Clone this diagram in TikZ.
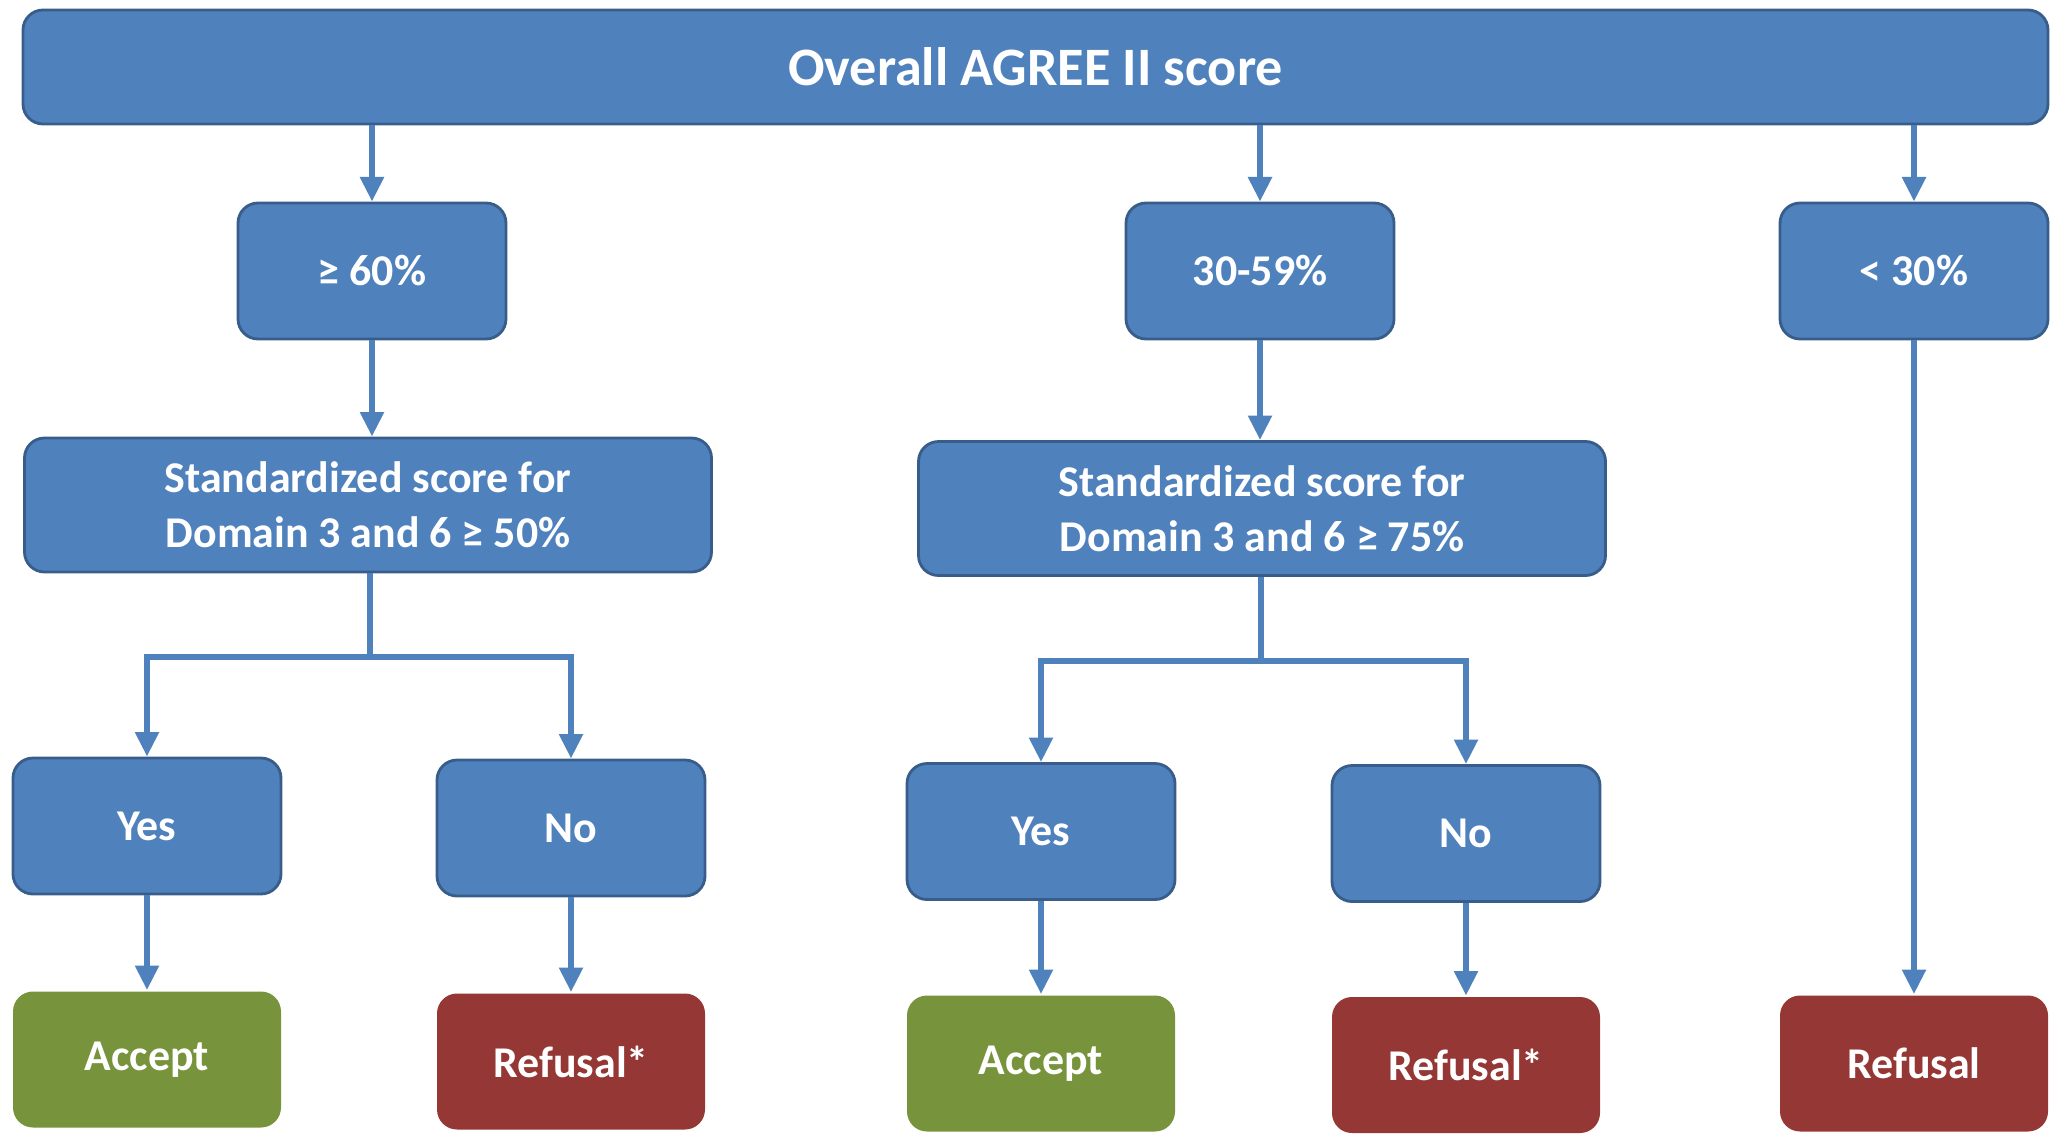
\documentclass[tikz,border=0pt]{standalone}
\usepackage{fontspec}
\setmainfont{Carlito}
\usetikzlibrary{arrows.meta}
\definecolor{boxblue}{HTML}{4F81BD}
\definecolor{edgeblue}{HTML}{385D8A}
\definecolor{okgreen}{HTML}{77933C}
\definecolor{norred}{HTML}{953735}
\begin{document}
\begin{tikzpicture}[
    stepbox/.style={draw=edgeblue,line width=0.8pt,fill=boxblue,rounded corners=0.2cm,
        text=white,font=\fontsize{12.5}{15.6}\selectfont\bfseries,align=center,
        minimum width=2.68cm,minimum height=1.36cm,inner sep=0pt},
    widebox/.style={stepbox,minimum width=6.87cm,minimum height=1.34cm},
    acceptbox/.style={stepbox,draw=none,fill=okgreen},
    refusebox/.style={stepbox,draw=none,fill=norred},
    link/.style={draw=boxblue,line width=1.7pt},
    arr/.style={link,-{Triangle[width=6.5pt,length=7pt]}}
]
\useasboundingbox (0,0) rectangle (20.53,11.33);
% top bar
\node[stepbox,minimum width=20.25cm,minimum height=1.14cm,
      font=\fontsize{15.4}{18}\selectfont\bfseries] (top) at (10.355,10.66) {Overall AGREE II score};
% score bands
\node[stepbox] (high) at (3.72,8.62) {≥ 60\%};
\node[stepbox] (mid) at (12.60,8.62) {30-59\%};
\node[stepbox] (low) at (19.14,8.62) {< 30\%};
% domain checks
\node[widebox] (dom1) at (3.68,6.28) {Standardized score for\\Domain 3 and 6 ≥ 50\%};
\node[widebox] (dom2) at (12.62,6.245) {Standardized score for\\Domain 3 and 6 ≥ 75\%};
% yes / no
\node[stepbox] (yes1) at (1.47,3.07) {Yes};
\node[stepbox] (no1) at (5.71,3.05) {No};
\node[stepbox] (yes2) at (10.41,3.015) {Yes};
\node[stepbox] (no2) at (14.66,2.995) {No};
% outcomes
\node[acceptbox] (acc1) at (1.47,0.735) {Accept};
\node[refusebox] (ref1) at (5.71,0.715) {Refusal*};
\node[acceptbox] (acc2) at (10.41,0.695) {Accept};
\node[refusebox] (ref2) at (14.66,0.68) {Refusal*};
\node[refusebox] (ref3) at (19.14,0.695) {Refusal};
% connectors
\draw[arr] (top.south -| high) -- (high);
\draw[arr] (top.south -| mid) -- (mid);
\draw[arr] (top.south -| low) -- (low);
\draw[arr] (high) -- (dom1.north -| high);
\draw[arr] (mid) -- (dom2.north -| mid);
\draw[arr] (low) -- (ref3);
\coordinate (fork1) at (3.70,4.76);
\coordinate (fork2) at (12.61,4.72);
\draw[link] (dom1.south -| fork1) -- (fork1);
\draw[arr] (fork1) -| (yes1.north);
\draw[arr] (fork1) -| (no1.north);
\draw[link] (dom2.south -| fork2) -- (fork2);
\draw[arr] (fork2) -| (yes2.north);
\draw[arr] (fork2) -| (no2.north);
\draw[arr] (yes1) -- (acc1);
\draw[arr] (no1) -- (ref1);
\draw[arr] (yes2) -- (acc2);
\draw[arr] (no2) -- (ref2);
\end{tikzpicture}
\end{document}
